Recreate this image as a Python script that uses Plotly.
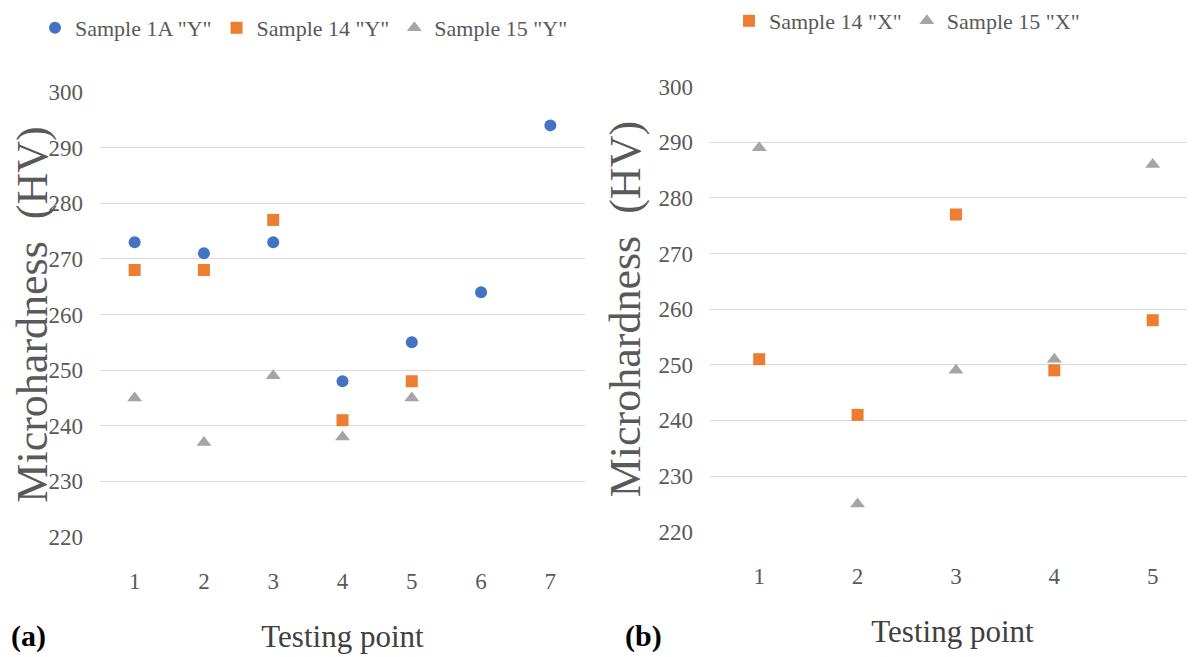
import plotly.graph_objects as go

# ---- data ----
points_a = [1, 2, 3, 4, 5, 6, 7]
s1a_y = [273, 271, 273, 248, 255, 264, 294]
points_a14 = [1, 2, 3, 4, 5]
s14_y = [268, 268, 277, 241, 248]
s15_y = [245, 237, 249, 238, 245]

points_b = [1, 2, 3, 4, 5]
s14_x = [251, 241, 277, 249, 258]
s15_x = [289, 225, 249, 251, 286]

y_ticks = [220, 230, 240, 250, 260, 270, 280, 290, 300]

BLUE = "#4472C4"
ORANGE = "#ED7D31"
GRAY = "#A5A5A5"
FONT = "Liberation Serif"
TXT = "#595959"

# page is 1195x657; the html body adds an 8px margin, so the figure is sized
# to fit and all page-pixel positions are converted with an 8px offset
PAGE_W, PAGE_H = 1195, 657
OFF = 8
W, H = PAGE_W - OFF, PAGE_H - OFF


def fx(px):  # page x pixel -> paper fraction
    return (px - OFF) / W


def fy(py):  # page y pixel (from top) -> paper fraction (from bottom)
    return (H - (py - OFF)) / H


fig = go.Figure()

fig.add_trace(go.Scatter(x=points_a, y=s1a_y, mode="markers", name='Sample 1A "Y"',
                         marker=dict(symbol="circle", size=12, color=BLUE),
                         xaxis="x", yaxis="y", legend="legend", cliponaxis=False))
fig.add_trace(go.Scatter(x=points_a14, y=s14_y, mode="markers", name='Sample 14 "Y"',
                         marker=dict(symbol="square", size=12, color=ORANGE),
                         xaxis="x", yaxis="y", legend="legend", cliponaxis=False))
fig.add_trace(go.Scatter(x=points_a14, y=s15_y, mode="markers", name='Sample 15 "Y"',
                         marker=dict(symbol="triangle-up", size=13, color=GRAY),
                         xaxis="x", yaxis="y", legend="legend", cliponaxis=False))

fig.add_trace(go.Scatter(x=points_b, y=s14_x, mode="markers", name='Sample 14 "X"',
                         marker=dict(symbol="square", size=12, color=ORANGE),
                         xaxis="x2", yaxis="y2", legend="legend2", cliponaxis=False))
fig.add_trace(go.Scatter(x=points_b, y=s15_x, mode="markers", name='Sample 15 "X"',
                         marker=dict(symbol="triangle-up", size=13, color=GRAY),
                         xaxis="x2", yaxis="y2", legend="legend2", cliponaxis=False))

tickfont = dict(family=FONT, size=23, color=TXT)
xaxis_common = dict(showgrid=False, zeroline=False, showline=False, ticks="",
                    tickfont=tickfont, automargin=False, ticklabelstandoff=28)
yaxis_common = dict(showgrid=True, gridcolor="#D9D9D9", gridwidth=1, zeroline=False,
                    showline=False, ticks="", tickfont=tickfont, automargin=False,
                    ticklabelstandoff=16)
xtitle_font = dict(family=FONT, size=31, color="#404040")
ytitle_font = dict(family=FONT, size=44, color=TXT)

fig.update_layout(
    width=W, height=H,
    margin=dict(l=0, r=0, t=0, b=0, autoexpand=False),
    paper_bgcolor="white", plot_bgcolor="white",
    font=dict(family=FONT, color=TXT),
    xaxis=dict(domain=[fx(100), fx(585)], range=[0.5, 7.5], tickvals=points_a, anchor="y",
               title=dict(text="Testing point", font=xtitle_font, standoff=32),
               **xaxis_common),
    yaxis=dict(domain=[fy(537), fy(92)], range=[220, 300], tickvals=y_ticks,
               anchor="x",
               title=dict(text="Microhardness  (HV)", font=ytitle_font, standoff=4),
               **yaxis_common),
    xaxis2=dict(domain=[fx(710), 1.0], range=[0.5, 5.43], tickvals=points_b, anchor="y2",
                title=dict(text="Testing point", font=xtitle_font, standoff=32),
                **xaxis_common),
    yaxis2=dict(domain=[fy(531.7), fy(86.5)], range=[220, 300], tickvals=y_ticks,
                anchor="x2",
                title=dict(text="Microhardness  (HV)", font=ytitle_font, standoff=4),
                **yaxis_common),
    legend=dict(orientation="h", x=fx(35), y=fy(7), xanchor="left", yanchor="top",
                font=dict(family=FONT, size=22, color=TXT), itemwidth=30,
                bgcolor="rgba(0,0,0,0)"),
    legend2=dict(orientation="h", x=fx(729), y=fy(0), xanchor="left", yanchor="top",
                 font=dict(family=FONT, size=22, color=TXT), itemwidth=30,
                 bgcolor="rgba(0,0,0,0)"),
    annotations=[
        dict(text="<b>(a)</b>", x=fx(9), y=fy(636), xref="paper", yref="paper",
             xanchor="left", yanchor="middle", showarrow=False,
             font=dict(family=FONT, size=30, color="black")),
        dict(text="<b>(b)</b>", x=fx(623), y=fy(636), xref="paper", yref="paper",
             xanchor="left", yanchor="middle", showarrow=False,
             font=dict(family=FONT, size=30, color="black")),
    ],
)

fig.write_html("out.html")
